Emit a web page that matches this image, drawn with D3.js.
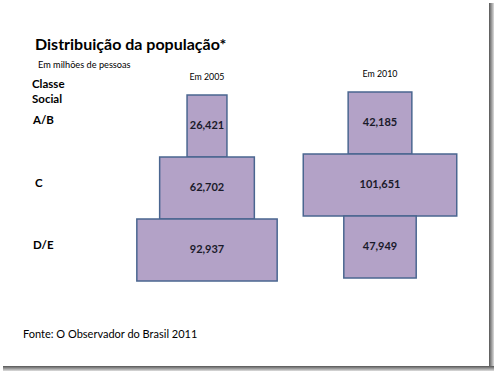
<!DOCTYPE html>
<meta charset="utf-8">
<style>
body {
  margin: 0;
  background: #fff;
}
text {
  font-family: Lato, "Open Sans", sans-serif;
  fill: #000;
}
.bar {
  fill: #b3a2c7;
  stroke: #4a6690;
  stroke-width: 1.5px;
}
.value {
  font-weight: bold;
  font-size: 11px;
  fill: #1a1a2a;
}
.row {
  font-weight: bold;
  font-size: 11.5px;
}
</style>
<body>
<script src="https://cdn.jsdelivr.net/npm/d3@7"></script>
<script>
var width = 494,
    height = 371;

var classes = ["A/B", "C", "D/E"];
var years = ["2005", "2010"];
var values2005 = [26.421, 62.702, 92.937];
var values2010 = [42.185, 101.651, 47.949];
var valueLabels2005 = ["26,421", "62,702", "92,937"];
var valueLabels2010 = ["42,185", "101,651", "47,949"];

var columns = [
  {year: years[0], values: values2005, labels: valueLabels2005, cx: 207, top: 95},
  {year: years[1], values: values2010, labels: valueLabels2010, cx: 380, top: 92}
];

var svg = d3.select("body").append("svg")
    .attr("width", width)
    .attr("height", height);

// slide shadow
var defs = svg.append("defs");
var gr = defs.append("linearGradient").attr("id", "shR");
gr.append("stop").attr("offset", "0").attr("stop-color", "#555");
gr.append("stop").attr("offset", "1").attr("stop-color", "#ddd");
var gb = defs.append("linearGradient").attr("id", "shB")
    .attr("x1", 0).attr("y1", 0).attr("x2", 0).attr("y2", 1);
gb.append("stop").attr("offset", "0").attr("stop-color", "#555");
gb.append("stop").attr("offset", "1").attr("stop-color", "#ddd");
svg.append("rect").attr("x", 489).attr("y", 3).attr("width", 5).attr("height", 368)
    .attr("fill", "url(#shR)");
svg.append("rect").attr("x", 3).attr("y", 366).attr("width", 491).attr("height", 5)
    .attr("fill", "url(#shB)");
svg.append("rect").attr("x", 0).attr("y", 0).attr("width", 489).attr("height", 366)
    .attr("fill", "#fff");

var w = d3.scaleLinear().domain([0, 100]).range([0, 151]);

svg.append("text").attr("x", 35).attr("y", 50)
    .style("font-size", "16px").style("font-weight", "bold")
    .text("Distribuição da população*");
svg.append("text").attr("x", 38).attr("y", 68)
    .style("font-size", "9.2px")
    .text("Em milhões de pessoas");
svg.append("text").attr("x", 32).attr("y", 88)
    .attr("class", "row").text("Classe");
svg.append("text").attr("x", 32).attr("y", 103)
    .attr("class", "row").text("Social");

columns.forEach(function(col) {
  var y = d3.scaleBand().domain(classes).range([col.top, col.top + 186]);

  svg.append("text")
      .attr("x", col.cx).attr("y", col.top - 15)
      .attr("text-anchor", "middle")
      .style("font-size", "8.8px")
      .text("Em " + col.year);

  var g = svg.append("g");
  g.selectAll("rect")
      .data(classes)
    .enter().append("rect")
      .attr("class", "bar")
      .attr("x", function(d, i) { return col.cx - w(col.values[i]) / 2; })
      .attr("y", function(d) { return y(d); })
      .attr("width", function(d, i) { return w(col.values[i]); })
      .attr("height", y.bandwidth());

  g.selectAll(".value")
      .data(classes)
    .enter().append("text")
      .attr("class", "value")
      .attr("x", col.cx)
      .attr("y", function(d) { return y(d) + y.bandwidth() / 2 - 1; })
      .attr("dy", "0.35em")
      .attr("text-anchor", "middle")
      .text(function(d, i) { return col.labels[i]; });
});

var yRow = d3.scaleBand().domain(classes).range([89, 277]);
svg.selectAll(".rowlabel")
    .data(classes)
  .enter().append("text")
    .attr("class", "row")
    .attr("x", function(d) { return d === "C" ? 35 : 33; })
    .attr("y", function(d) { return yRow(d) + 31; })
    .attr("dy", "0.35em")
    .text(function(d) { return d; });

svg.append("text").attr("x", 23).attr("y", 338)
    .style("font-size", "11px")
    .text("Fonte: O Observador do Brasil 2011");
</script>
